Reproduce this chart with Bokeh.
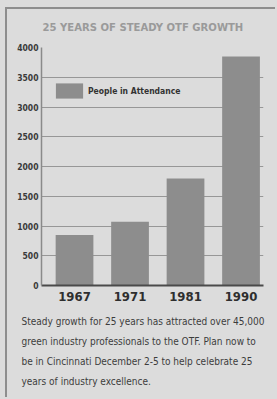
from bokeh.plotting import figure
from bokeh.models import Range1d, FixedTicker, Legend, LegendItem, ColumnDataSource, Title
from bokeh.embed import file_html
from bokeh.resources import INLINE

# data
years = ["1967", "1971", "1981", "1990"]
attendance = [850, 1070, 1800, 3850]
y_ticks = [0, 500, 1000, 1500, 2000, 2500, 3000, 3500, 4000]
title_text = "25 YEARS OF STEADY OTF GROWTH"
legend_text = "People in Attendance"
caption_lines = [
    "Steady growth for 25 years has attracted over 45,000",
    "green industry professionals to the OTF. Plan now to",
    "be in Cincinnati December 2-5 to help celebrate 25",
    "years of industry excellence.",
]

FONT = "DejaVu Sans Condensed"
BG = "#dcdcdc"

positions = list(range(len(years)))
src = ColumnDataSource(dict(x=positions, top=attendance))

p = figure(width=270, height=390, output_backend="svg", toolbar_location=None,
           x_range=Range1d(-0.595, 3.405), y_range=Range1d(0, 4000),
           min_border_left=34, min_border_right=14, min_border_top=38, min_border_bottom=114,
           background_fill_color=BG, border_fill_color=BG,
           styles={"margin-left": "5px", "margin-top": "7px",
                   "border-left": "2px solid #8e8e8e", "border-top": "2px solid #8e8e8e"})
p.outline_line_color = None

r = p.vbar(x="x", top="top", width=0.68, source=src, fill_color="#8d8d8d", line_color=None)

# axes
p.yaxis.ticker = FixedTicker(ticks=y_ticks)
p.yaxis.axis_line_color = "#8a8a8a"
p.yaxis.axis_line_width = 1.5
p.yaxis.major_tick_line_color = None
p.yaxis.major_tick_out = 0
p.yaxis.major_tick_in = 0
p.yaxis.minor_tick_line_color = None
p.yaxis.major_label_text_font = FONT
p.yaxis.major_label_text_font_style = "bold"
p.yaxis.major_label_text_font_size = "8.5px"
p.yaxis.major_label_text_color = "#3a3a3a"
p.yaxis.major_label_standoff = 3

p.xaxis.ticker = FixedTicker(ticks=positions)
p.xaxis.major_label_overrides = {i: y for i, y in enumerate(years)}
p.xaxis.axis_line_color = "#4a4a4a"
p.xaxis.axis_line_width = 2
p.xaxis.major_tick_line_color = None
p.xaxis.major_tick_out = 0
p.xaxis.major_tick_in = 0
p.xaxis.minor_tick_line_color = None
p.xaxis.major_label_text_font = FONT
p.xaxis.major_label_text_font_style = "bold"
p.xaxis.major_label_text_font_size = "13px"
p.xaxis.major_label_text_color = "#2e2e2e"
p.xaxis.major_label_standoff = 6

p.xgrid.grid_line_color = None
p.ygrid.ticker = FixedTicker(ticks=y_ticks)
p.ygrid.grid_line_color = "#979797"
p.ygrid.grid_line_width = 1.2

# legend
legend = Legend(items=[LegendItem(label=legend_text, renderers=[r])],
                location=(11, 185), orientation="vertical",
                background_fill_alpha=0, border_line_color=None,
                glyph_width=34, glyph_height=19, label_height=19,
                padding=0, margin=0, label_standoff=2,
                label_text_font=FONT, label_text_font_style="bold",
                label_text_font_size="8.5px", label_text_color="#333333")
p.add_layout(legend, "center")

# title (spacer between frame and title keeps the title higher)
p.title = Title(text=title_text, align="left", offset=1, text_font=FONT, text_font_style="bold",
                text_font_size="11.2px", text_color="#9a9a9a", standoff=2)
p.add_layout(Title(text=" ", text_font_size="1px", standoff=10, text_color=BG), "above")

# caption
p.add_layout(Title(text=" ", text_font_size="1px", standoff=4, text_color=BG), "below")
for line in caption_lines:
    p.add_layout(Title(text=line, align="left", offset=-20, standoff=7.2,
                       text_font=FONT, text_font_style="normal",
                       text_font_size="10px", text_color="#3c3c3c"), "below")

html = file_html(p, INLINE)
html = html.replace("</head>", "<style>html, body { background-color: %s !important; }</style></head>" % BG, 1)
open("out.html", "w").write(html)
